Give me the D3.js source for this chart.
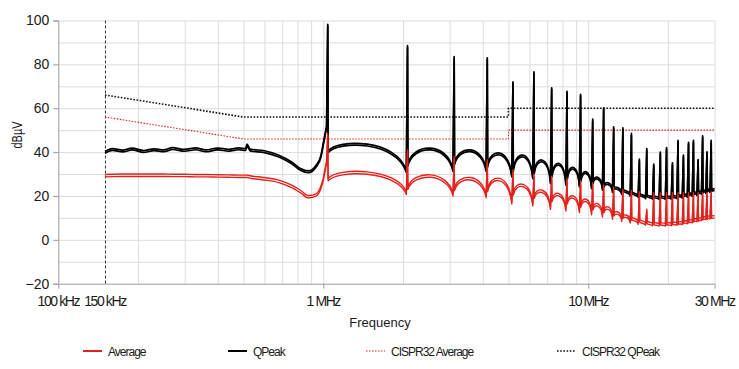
<!DOCTYPE html>
<html>
<head>
<meta charset="utf-8">
<title>conducted emissions</title>
<script src="https://d3js.org/d3.v7.min.js"></script>
<style>
  body { margin: 0; background: #fff; }
  svg { font-family: "Liberation Sans", Arial, sans-serif; }
</style>
</head>
<body>
<svg id="chart" width="739" height="369"></svg>
<script>
// --- data (MHz / dBµV) ---
const lowMHz     = [0.15, 0.16, 0.175, 0.19, 0.21, 0.23, 0.25, 0.27, 0.3, 0.33, 0.36, 0.4, 0.44, 0.48, 0.51, 0.515, 0.53, 0.6, 0.68, 0.76, 0.82, 0.88, 0.94, 0.98, 1.0];
const lowQpeak   = [40.3, 41.6, 40.9, 41.8, 40.7, 41.5, 41.0, 42.0, 41.2, 41.9, 41.0, 41.8, 41.3, 41.9, 41.6, 43.6, 41.4, 40.6, 38.6, 35.5, 32.5, 31.4, 34.0, 38.5, 44.0];
const lowAverage = [29.8, 29.9, 30.0, 30.0, 30.0, 30.0, 30.0, 29.9, 29.9, 29.8, 29.8, 29.7, 29.6, 29.5, 29.5, 29.5, 29.2, 28.4, 27.2, 24.9, 22.6, 20.2, 21.0, 24.5, 28.0];

// switching frequency harmonics
const harmonicMHz = [1.04, 2.08, 3.12, 4.16, 5.2, 6.24, 7.28, 8.32, 9.36, 10.4, 11.44, 12.48, 13.52, 14.56,
                     15.6, 16.64, 17.68, 18.72, 19.76, 20.8, 21.84, 22.88, 23.92, 24.96, 26.0, 27.04, 28.08, 29.12];

const qpeakSpike = [98.3, 88.5, 83.5, 83.0, 72.0, 76.6, 69.3, 67.7, 66.3, 55.0, 60.2, 51.5, 51.1, 48.5,
                    36.8, 41.6, 34.5, 40.0, 42.1, 35.1, 45.4, 38.6, 44.5, 45.4, 36.6, 47.4, 40.1, 45.4];
const qpeakDip   = [52.0, 31.5, 32.0, 32.0, 29.5, 28.7, 26.4, 25.7, 24.9, 24.1, 23.5, 22.5, 21.5, 20.8,
                    20.2, 19.6, 19.4, 19.3, 19.3, 19.4, 19.6, 19.8, 20.2, 20.6, 21.0, 21.5, 22.0, 22.4];
const qpeakAfter = [40.5, 34.5, 35.0, 34.0, 32.0, 31.0, 29.5, 28.5, 27.5, 26.5, 25.0, 24.0, 23.0, 22.0,
                    21.0, 20.5, 20.0, 20.0, 20.0, 20.0, 20.2, 20.5, 21.0, 21.3, 21.7, 22.2, 22.6, 23.0];
const qpeakArch  = [43.6, 41.8, 41.0, 39.5, 38.6, 36.3, 34.8, 33.0, 31.0, 28.5, 26.0, 23.8, 22.2, 21.2,
                    20.5, 20.0, 19.8, 19.8, 19.9, 20.1, 20.4, 20.8, 21.3, 21.8, 22.2, 22.7, 23.1];
const qpeakEnd = 23.4;

const averageSpike = [48.5, 41.0, 38.0, 36.5, 32.0, 30.0, 29.0, 28.0, 27.0, 26.0, 25.0, 24.0, 23.0, 22.5,
                      22.0, 14.0, 21.5, 21.5, 21.5, 21.5, 21.5, 21.5, 21.5, 21.5, 21.5, 21.5, 21.5, 22.0];
const averageDip   = [36.0, 21.8, 21.1, 20.3, 17.5, 16.5, 15.0, 14.3, 13.5, 12.5, 11.5, 10.5, 9.5, 8.8,
                      8.2, 7.8, 7.5, 7.4, 7.4, 7.5, 7.7, 8.0, 8.4, 8.8, 9.3, 9.8, 10.2, 10.6];
const averageAfter = [28.0, 24.0, 23.5, 23.0, 21.5, 20.0, 18.5, 17.5, 16.0, 14.8, 13.5, 12.0, 11.0, 10.0,
                      9.2, 8.5, 8.0, 7.8, 7.8, 7.9, 8.1, 8.4, 8.8, 9.2, 9.6, 10.1, 10.5, 10.9];
const averageArch  = [31.0, 29.6, 28.4, 28.0, 25.3, 22.6, 21.1, 20.0, 18.5, 16.5, 15.0, 12.7, 11.2, 9.7,
                      8.6, 8.0, 7.7, 7.7, 7.8, 8.0, 8.3, 8.7, 9.1, 9.6, 10.0, 10.5, 10.9];
const averageEnd = 11.0;

// CISPR 32 class B limits
const limitMHz      = [0.15, 0.5, 5, 5, 30];
const limitQpeak    = [66, 56, 56, 60, 60];
const limitAverage  = [56, 46, 46, 50, 50];

const yTicks = [-20, 0, 20, 40, 60, 80, 100];
const yGrid  = [-10, 10, 30, 50, 70, 90];
const xTicks = [0.1, 0.15, 1, 10, 30];
const xTickLabels = ["100 kHz", "150 kHz", "1 MHz", "10 MHz", "30 MHz"];
const xGrid = [0.2, 0.3, 0.4, 0.5, 0.6, 0.7, 0.8, 0.9, 1, 2, 3, 4, 5, 6, 7, 8, 9, 10, 20, 30];

const RED = "#e2211c";

// --- scales ---
const svg = d3.select("#chart");
const x = d3.scaleLog().domain([0.1, 30]).range([58.3, 714.6]);
const y = d3.scaleLinear().domain([-20, 100]).range([283.7, 20.5]);

// grid
svg.append("g").selectAll("line").data(yTicks.concat(yGrid).filter(d => d > -20)).join("line")
  .attr("x1", x(0.1)).attr("x2", x(30))
  .attr("y1", d => y(d) + 0.5).attr("y2", d => y(d) + 0.5)
  .attr("stroke", "#dcdcdc").attr("stroke-width", 1);
svg.append("g").selectAll("line").data(xGrid).join("line")
  .attr("x1", d => x(d) + 0.5).attr("x2", d => x(d) + 0.5)
  .attr("y1", y(100)).attr("y2", y(-20))
  .attr("stroke", "#dcdcdc").attr("stroke-width", 1);

// axes
const yAxis = d3.axisLeft(y).tickValues(yTicks).tickSize(5).tickPadding(4);
svg.append("g").attr("transform", `translate(${x(0.1)},0)`).call(yAxis)
  .call(g => g.select(".domain").attr("stroke", "#9a9a9a"))
  .call(g => g.selectAll(".tick line").attr("stroke", "#9a9a9a"))
  .call(g => g.selectAll("text").attr("font-size", 14).attr("fill", "#1a1a1a")
    .attr("font-family", "Liberation Sans, Arial, sans-serif"));

const xAxis = d3.axisBottom(x).tickValues([1, 10]).tickSize(5).tickFormat("");
svg.append("g").attr("transform", `translate(0,${y(-20)})`).call(xAxis)
  .call(g => g.select(".domain").attr("stroke", "#9a9a9a"))
  .call(g => g.selectAll(".tick line").attr("stroke", "#9a9a9a"));

svg.append("g").selectAll("text").data(xTicks).join("text")
  .attr("x", d => x(d)).attr("y", 306)
  .attr("text-anchor", "middle").attr("font-size", 14).attr("letter-spacing", -1.4)
  .attr("fill", "#1a1a1a")
  .text((d, i) => xTickLabels[i]);

svg.append("text").attr("x", 380).attr("y", 327).attr("text-anchor", "middle")
  .attr("font-size", 13).attr("fill", "#1a1a1a").text("Frequency");
svg.append("text").attr("transform", "translate(22,135) rotate(-90) scale(0.78,1)").attr("text-anchor", "middle")
  .attr("font-size", 14).attr("fill", "#1a1a1a").text("dBµV");

// 150 kHz marker
svg.append("line").attr("x1", x(0.15) + 0.5).attr("x2", x(0.15) + 0.5)
  .attr("y1", y(100)).attr("y2", y(-20))
  .attr("stroke", "#333").attr("stroke-width", 1).attr("stroke-dasharray", "3,2");

// --- traces: smooth low band, then a narrow spike at each harmonic and a lobe to the next ---
function tracePath(lowVals, spike, dip, after, arch, end) {
  const ctx = d3.path();
  d3.line().x(d => x(d[0])).y(d => y(d[1])).curve(d3.curveMonotoneX)
    .context(ctx)(lowMHz.map((f, i) => [f, lowVals[i]]));
  harmonicMHz.forEach((f, i) => {
    if (i === 0) ctx.lineTo(x(f * 0.99), y(dip[i]));
    ctx.lineTo(x(f), y(spike[i]));
    ctx.lineTo(x(f * 1.003), y(after[i]));
    const x0 = x(f * 1.003), y0 = y(after[i]);
    if (i < arch.length) {
      const x2 = x(harmonicMHz[i + 1] * 0.99), y2 = y(dip[i + 1]);
      // cubic lobe, flat on top, crest reaching the arch value at mid-span
      const yc = (8 * y(arch[i]) - y0 - y2) / 6;
      const w = x2 - x0;
      ctx.bezierCurveTo(x0 + w * 0.12, yc, x2 - w * 0.12, yc, x2, y2);
    } else {
      ctx.lineTo(x(30), y(end));
    }
  });
  return ctx.toString();
}

const limitLine = d3.line().x(d => x(d[0])).y(d => y(d[1]));

svg.append("path").datum(limitMHz.map((f, i) => [f, limitQpeak[i]]))
  .attr("d", limitLine).attr("fill", "none")
  .attr("stroke", "#111").attr("stroke-width", 1.6).attr("stroke-dasharray", "1.6,1.6");
svg.append("path").datum(limitMHz.map((f, i) => [f, limitAverage[i]]))
  .attr("d", limitLine).attr("fill", "none")
  .attr("stroke", RED).attr("stroke-width", 1.1).attr("stroke-dasharray", "1.5,1.5");

// each measurement is shown as a doubled trace (two detector passes)
const qpeakD = tracePath(lowQpeak, qpeakSpike, qpeakDip, qpeakAfter, qpeakArch, qpeakEnd);
const averageD = tracePath(lowAverage, averageSpike, averageDip, averageAfter, averageArch, averageEnd);

[0, 1.8].forEach(dy => {
  svg.append("path").attr("d", qpeakD).attr("transform", `translate(0,${dy})`)
    .attr("fill", "none").attr("stroke", "#000").attr("stroke-width", 1.7)
    .attr("stroke-linejoin", "round");
});
[0, 2.4].forEach(dy => {
  svg.append("path").attr("d", averageD).attr("transform", `translate(0,${dy})`)
    .attr("fill", "none").attr("stroke", RED).attr("stroke-width", 1.4)
    .attr("stroke-linejoin", "round");
});

// --- legend ---
const legend = [
  { name: "Average", color: RED, dash: null, width: 2, x: 83 },
  { name: "QPeak", color: "#000", dash: null, width: 2, x: 228 },
  { name: "CISPR32 Average", color: RED, dash: "1.5,1.5", width: 1.1, x: 366 },
  { name: "CISPR32 QPeak", color: "#111", dash: "1.6,1.6", width: 1.6, x: 557 }
];
const lg = svg.append("g").selectAll("g").data(legend).join("g")
  .attr("transform", d => `translate(${d.x},351)`);
lg.append("line").attr("x1", 0).attr("x2", 19).attr("y1", 0).attr("y2", 0)
  .attr("stroke", d => d.color).attr("stroke-width", d => d.width)
  .attr("stroke-dasharray", d => d.dash);
lg.append("text").attr("x", 25).attr("y", 4.5).attr("font-size", 12).attr("letter-spacing", -1)
  .attr("fill", "#1a1a1a").text(d => d.name);
</script>
</body>
</html>
